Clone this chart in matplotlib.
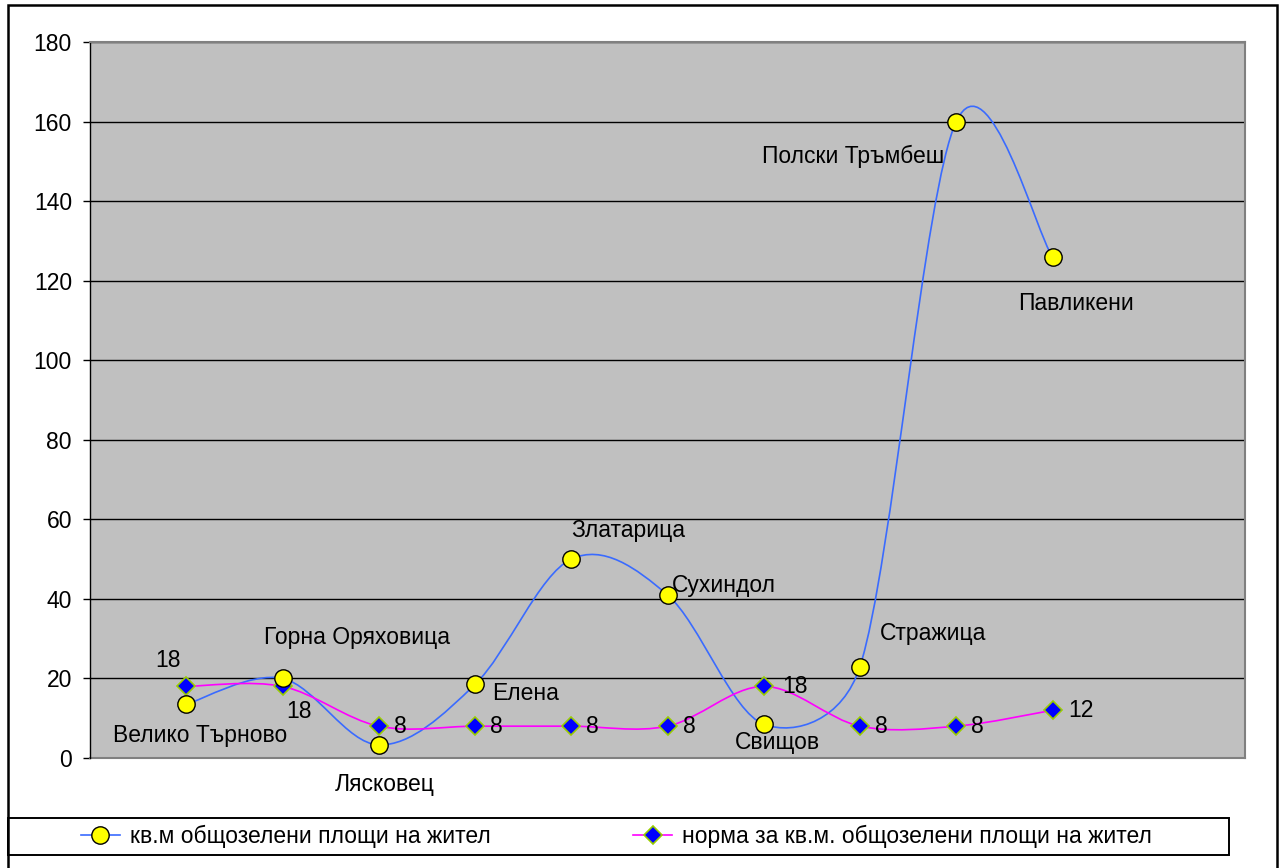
import numpy as np
import matplotlib
matplotlib.use("Agg")
import matplotlib.pyplot as plt
from matplotlib.path import Path
from matplotlib.patches import PathPatch, Rectangle
from matplotlib.lines import Line2D

plt.rcParams['font.family'] = ['Liberation Sans', 'DejaVu Sans']

# данни
towns = ["Велико Търново", "Горна Оряховица", "Лясковец", "Елена", "Златарица",
         "Сухиндол", "Свищов", "Стражица", "Полски Тръмбеш", "Павликени"]
green_area = [13.5, 20, 3.3, 18.5, 50, 41, 8.5, 23, 160, 126]
norm = [18, 18, 8, 8, 8, 8, 18, 8, 8, 12]
series_names = ["кв.м общозелени площи на жител",
                "норма за кв.м. общозелени площи на жител"]

# label offsets in pixels (dx, dy) from the marker
town_off = [(14, -31), (74, 41), (6, -40), (51, -9), (57, 29),
            (56, 9), (14, -18), (73, 33), (-103, -35), (23, -47)]
norm_off = [(-18, 26, 'center'), (16, -25, 'center'), (15, 0, 'left'),
            (15, 0, 'left'), (15, 0, 'left'), (15, 0, 'left'),
            (18, 0, 'left'), (15, 0, 'left'), (15, 0, 'left'), (16, 0, 'left')]


def smooth_path(ax, x, y):
    # excel-like smoothing: bezier, tangents 1/6 of neighbour chord,
    # clamped to half the segment length (measured on screen)
    d = np.column_stack([x, y]).astype(float)
    p = ax.transData.transform(d)
    n = len(p)
    verts = [p[0]]
    codes = [Path.MOVETO]
    for i in range(n - 1):
        p0 = p[i - 1] if i > 0 else p[i]
        p3 = p[i + 2] if i + 2 < n else p[i + 1]
        seg = np.hypot(*(p[i + 1] - p[i]))
        v1 = p[i + 1] - p0
        v2 = p3 - p[i]
        f1 = min(1 / 6, 0.5 * seg / max(np.hypot(*v1), 1e-9))
        f2 = min(1 / 6, 0.5 * seg / max(np.hypot(*v2), 1e-9))
        verts += [p[i] + v1 * f1, p[i + 1] - v2 * f2, p[i + 1]]
        codes += [Path.CURVE4] * 3
    verts = ax.transData.inverted().transform(np.array(verts))
    return Path(verts, codes)


W, H = 1279, 868
fig = plt.figure(figsize=(W / 100, H / 100), dpi=100)
ax = fig.add_axes([90 / W, (H - 758) / H, 1155 / W, 716 / H])
ax.set_facecolor('#C0C0C0')
ax.set_xlim(0, 12)
ax.set_ylim(0, 180)

x = np.arange(1, len(towns) + 1)
blue = '#3A6BFF'
mag = '#FF00FF'

ax.add_patch(PathPatch(smooth_path(ax, x, green_area), fill=False, edgecolor=blue, lw=1.2, zorder=3))
ax.add_patch(PathPatch(smooth_path(ax, x, norm), fill=False, edgecolor=mag, lw=1.2, zorder=3))
ax.plot(x, norm, linestyle='none', marker='D', markersize=9, markerfacecolor='#0000FF',
        markeredgecolor='#99CC00', markeredgewidth=1.2, zorder=4)
ax.plot(x, green_area, linestyle='none', marker='o', markersize=12.5, markerfacecolor='#FFFF00',
        markeredgecolor='black', markeredgewidth=1.0, zorder=5)

fs = 16.5
for i, t in enumerate(towns):
    ax.annotate(t, (x[i], green_area[i]), xytext=town_off[i], textcoords='offset pixels',
                ha='center', va='center', fontsize=fs, zorder=6)
for i, v in enumerate(norm):
    dx, dy, ha = norm_off[i]
    ax.annotate(str(v), (x[i], v), xytext=(dx, dy), textcoords='offset pixels',
                ha=ha, va='center', fontsize=fs, zorder=6)

ax.set_yticks(np.arange(0, 181, 20))
ax.set_xticks([])
ax.yaxis.grid(True, color='black', lw=1.0)
ax.set_axisbelow(True)
ax.tick_params(axis='y', length=5, width=1, direction='out', pad=8, labelsize=fs)
for s in ['top', 'right', 'bottom']:
    ax.spines[s].set_color('#808080')
    ax.spines[s].set_linewidth(1.5)
ax.spines['left'].set_color('black')
ax.spines['left'].set_linewidth(1.0)
ax.spines['bottom'].set_zorder(1)

# outer frame of the chart
fig.patches.append(Rectangle((8 / W, -0.02), (1277 - 8) / W, (H - 5) / H + 0.02,
                             transform=fig.transFigure, fill=False, edgecolor='black', lw=1.8))
# legend frame
fig.patches.append(Rectangle((8 / W, (H - 855) / H), 1221 / W, 37 / H,
                             transform=fig.transFigure, fill=False, edgecolor='black', lw=1.4))

handles = [Line2D([], [], color=blue, lw=1.2, marker='o', markersize=12.5,
                  markerfacecolor='#FFFF00', markeredgecolor='black'),
           Line2D([], [], color=mag, lw=1.2, marker='D', markersize=9,
                  markerfacecolor='#0000FF', markeredgecolor='#99CC00', markeredgewidth=1.2)]
leg = fig.legend(handles, series_names, loc='center left', ncol=2,
                 bbox_to_anchor=(81 / W, (H - 836.5) / H),
                 fontsize=fs, frameon=False, handlelength=1.7,
                 handletextpad=0.45, borderpad=0, borderaxespad=0, columnspacing=6.2)

fig.savefig('out.png', dpi=100)
